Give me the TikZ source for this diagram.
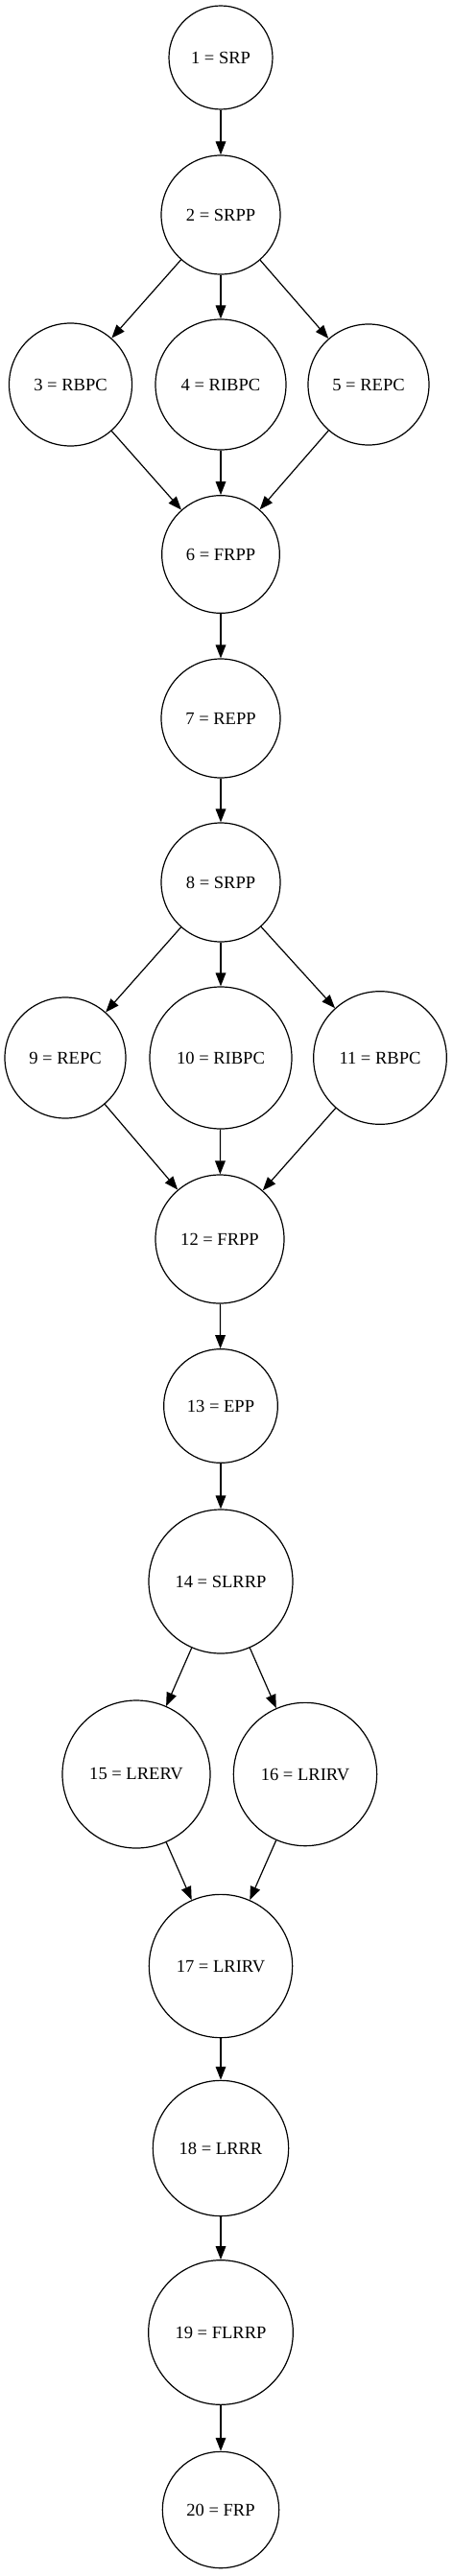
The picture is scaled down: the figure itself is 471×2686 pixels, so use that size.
\documentclass[tikz,border=0pt]{standalone}
\usepackage{fontspec}
\setmainfont{Liberation Serif}
\usetikzlibrary{arrows.meta}

\tikzset{
  state/.style={circle,draw,line width=0.9pt,inner sep=0pt,font=\fontsize{13.9pt}{16pt}\selectfont},
  flow/.style={-{Triangle[length=10.5pt,width=8pt]},line width=0.9pt}
}

\begin{document}
\begin{tikzpicture}[x=0.75pt,y=-0.75pt]
\useasboundingbox (0,0) rectangle (471,2686);
% states
\node[state,minimum size=81pt]    (s1)  at (230,60)   {1 = SRP};
\node[state,minimum size=93pt]    (s2)  at (230,224)  {2 = SRPP};
\node[state,minimum size=96pt]    (s3)  at (73.5,401) {3 = RBPC};
\node[state,minimum size=102pt]   (s4)  at (230,401)  {4 = RIBPC};
\node[state,minimum size=94.5pt]  (s5)  at (384,401)  {5 = REPC};
\node[state,minimum size=92pt]    (s6)  at (230,578)  {6 = FRPP};
\node[state,minimum size=93pt]    (s7)  at (230,749)  {7 = REPP};
\node[state,minimum size=93pt]    (s8)  at (230,920)  {8 = SRPP};
\node[state,minimum size=94.5pt]  (s9)  at (68,1103)  {9 = REPC};
\node[state,minimum size=111pt]   (s10) at (230,1103) {10 = RIBPC};
\node[state,minimum size=104pt]   (s11) at (396,1103) {11 = RBPC};
\node[state,minimum size=100.5pt] (s12) at (229,1292) {12 = FRPP};
\node[state,minimum size=89pt]    (s13) at (230,1466) {13 = EPP};
\node[state,minimum size=112.5pt] (s14) at (230,1649) {14 = SLRRP};
\node[state,minimum size=115.5pt] (s15) at (142,1850) {15 = LRERV};
\node[state,minimum size=112pt]   (s16) at (318,1850) {16 = LRIRV};
\node[state,minimum size=112pt]   (s17) at (230,2050) {17 = LRIRV};
\node[state,minimum size=106pt]   (s18) at (230,2240) {18 = LRRR};
\node[state,minimum size=113pt]   (s19) at (230,2432) {19 = FLRRP};
\node[state,minimum size=91pt]    (s20) at (230,2617) {20 = FRP};
% transitions
\draw[flow] (s1) -- (s2);
\draw[flow] (s2) -- (s3); \draw[flow] (s2) -- (s4); \draw[flow] (s2) -- (s5);
\draw[flow] (s3) -- (s6); \draw[flow] (s4) -- (s6); \draw[flow] (s5) -- (s6);
\draw[flow] (s6) -- (s7);
\draw[flow] (s7) -- (s8);
\draw[flow] (s8) -- (s9); \draw[flow] (s8) -- (s10); \draw[flow] (s8) -- (s11);
\draw[flow] (s9) -- (s12); \draw[flow] (s10) -- (s12); \draw[flow] (s11) -- (s12);
\draw[flow] (s12) -- (s13);
\draw[flow] (s13) -- (s14);
\draw[flow] (s14) -- (s15); \draw[flow] (s14) -- (s16);
\draw[flow] (s15) -- (s17); \draw[flow] (s16) -- (s17);
\draw[flow] (s17) -- (s18);
\draw[flow] (s18) -- (s19);
\draw[flow] (s19) -- (s20);
\end{tikzpicture}
\end{document}
